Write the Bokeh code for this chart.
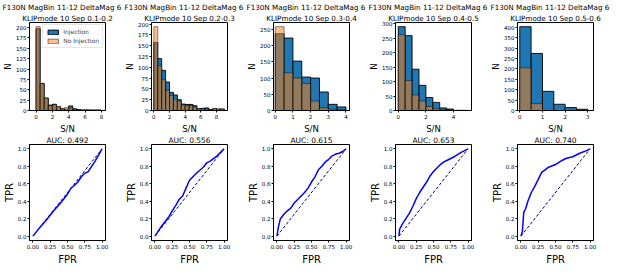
import numpy as np
from bokeh.plotting import figure
from bokeh.layouts import gridplot
from bokeh.models import FixedTicker, PrintfTickFormatter, Legend, LegendItem, Range1d, Title
from bokeh.embed import file_html
from bokeh.resources import INLINE

FONT = "DejaVu Sans"

# ---------------- data ----------------
title_line1 = "F130N MagBin 11-12 DeltaMag 6"
sep_labels = ["0.1-0.2", "0.2-0.3", "0.3-0.4", "0.4-0.5", "0.5-0.6"]
auc_values = ["0.492", "0.556", "0.615", "0.653", "0.740"]

bin_width = 0.5

# S/N histograms (counts per 0.5-wide bin starting at 0)
inj_1 = [197, 65, 30, 13, 15, 9, 4, 3, 11, 4, 2, 1, 1, 1, 1, 1, 0]
noinj_1 = [202, 65, 30, 12, 14, 10, 4, 7, 6, 3, 2, 1, 2, 1, 1, 1, 0]
inj_2 = [157, 120, 93, 66, 42, 36, 25, 15, 14, 14, 11, 4, 5, 6, 2, 4, 3, 3]
noinj_2 = [194, 104, 71, 47, 35, 26, 22, 13, 12, 11, 8, 4, 4, 3, 2, 5, 4, 4]
inj_3 = [236, 223, 152, 103, 100, 57, 19, 11]
noinj_3 = [258, 116, 100, 83, 29, 8, 4, 3]
inj_4 = [290, 259, 143, 87, 45, 28, 9, 5, 0, 0]
noinj_4 = [262, 104, 54, 33, 14, 7, 3, 2, 1, 1]
inj_5 = [403, 274, 92, 30, 14, 6]
noinj_5 = [205, 33, 0, 0, 0, 0]

hist_xticks_1 = [0, 2, 4, 6, 8]
hist_xticks_2 = [0, 2, 4, 6, 8]
hist_xticks_3 = [0, 1, 2, 3, 4]
hist_xticks_4 = [0, 2, 4]
hist_xticks_5 = [0, 1, 2, 3]
hist_yticks_1 = [0, 25, 50, 75, 100, 125, 150, 175, 200]
hist_yticks_2 = [0, 25, 50, 75, 100, 125, 150, 175, 200]
hist_yticks_3 = [0, 50, 100, 150, 200, 250]
hist_yticks_4 = [0, 50, 100, 150, 200, 250, 300]
hist_yticks_5 = [0, 50, 100, 150, 200, 250, 300, 350, 400]
hist_xlims_1 = (-0.8, 8.5)
hist_xlims_2 = (-0.3, 9.4)
hist_xlims_3 = (-0.1, 4.2)
hist_xlims_4 = (-0.2, 5.3)
hist_xlims_5 = (-0.1, 3.25)

# ROC curves
roc_fpr_1 = [0, 0.1, 0.2, 0.3, 0.4, 0.5, 0.55, 0.6, 0.65, 0.7, 0.75, 0.8, 0.9, 1.0]
roc_tpr_1 = [0, 0.1, 0.19, 0.29, 0.38, 0.48, 0.55, 0.58, 0.62, 0.68, 0.72, 0.74, 0.86, 1.0]
roc_fpr_2 = [0, 0.1, 0.2, 0.25, 0.3, 0.35, 0.4, 0.45, 0.5, 0.55, 0.6, 0.7, 0.75, 0.8, 0.9, 1.0]
roc_tpr_2 = [0, 0.12, 0.22, 0.29, 0.35, 0.42, 0.46, 0.55, 0.64, 0.68, 0.72, 0.79, 0.84, 0.86, 0.92, 1.0]
roc_fpr_3 = [0, 0.02, 0.05, 0.1, 0.15, 0.2, 0.25, 0.3, 0.35, 0.4, 0.45, 0.5, 0.55, 0.6, 0.65,
             0.7, 0.75, 0.8, 0.85, 0.9, 0.95, 1.0]
roc_tpr_3 = [0, 0.1, 0.2, 0.25, 0.29, 0.32, 0.38, 0.42, 0.46, 0.5, 0.55, 0.62, 0.68, 0.76, 0.8,
             0.85, 0.88, 0.92, 0.94, 0.95, 0.97, 1.0]
roc_fpr_4 = [0, 0.01, 0.03, 0.05, 0.1, 0.15, 0.2, 0.25, 0.3, 0.35, 0.4, 0.45, 0.5, 0.55, 0.6,
             0.65, 0.7, 0.8, 0.9, 1.0]
roc_tpr_4 = [0, 0.08, 0.11, 0.14, 0.2, 0.26, 0.34, 0.43, 0.5, 0.56, 0.62, 0.69, 0.74, 0.78, 0.82,
             0.85, 0.87, 0.91, 0.96, 1.0]
roc_fpr_5 = [0, 0.02, 0.04, 0.07, 0.1, 0.15, 0.2, 0.25, 0.3, 0.35, 0.4, 0.5, 0.6, 0.65, 0.75,
             0.85, 0.95, 1.0]
roc_tpr_5 = [0, 0.05, 0.27, 0.32, 0.4, 0.5, 0.57, 0.65, 0.73, 0.76, 0.79, 0.82, 0.87, 0.89, 0.91,
             0.95, 0.98, 1.0]
roc_xticks = [0, 0.25, 0.5, 0.75, 1.0]
roc_yticks = [0, 0.2, 0.4, 0.6, 0.8, 1.0]
diag = [0, 1]

INJ_COLOR = "#1f77b4"
NOINJ_COLOR = "#ff7f0e"

COL_W = 122
LEFT_B = 29


def style(p, xlabel, ylabel, label_size):
    for ax in (p.xaxis[0], p.yaxis[0]):
        ax.major_label_text_font = FONT
        ax.major_label_text_font_size = "5.5px"
        ax.major_label_text_color = "black"
        ax.axis_label_text_font = FONT
        ax.axis_label_text_font_size = label_size
        ax.axis_label_text_font_style = "normal"
        ax.axis_label_text_color = "black"
        ax.major_tick_in = 0
        ax.major_tick_out = 2
        ax.minor_tick_in = 0
        ax.minor_tick_out = 0
        ax.axis_line_color = "black"
        ax.major_tick_line_color = "black"
        ax.major_label_standoff = 1
        ax.axis_label_standoff = 0
    # x label as a compact title below the axis
    p.add_layout(Title(text=xlabel, align="center", text_font=FONT, text_font_size=label_size,
                       text_font_style="normal", text_color="black", standoff=0, offset=0),
                 "below")
    p.yaxis.axis_label = ylabel
    p.xgrid.visible = False
    p.ygrid.visible = False
    p.outline_line_color = "black"
    p.outline_line_alpha = 1
    p.background_fill_color = "white"
    p.border_fill_color = "white"


def add_title(p, text, size, standoff, align="center", offset=0):
    t = Title(text=text, align=align, text_font=FONT, text_font_size=size,
              text_font_style="normal", text_color="black", standoff=standoff, offset=offset)
    p.add_layout(t, "above")


hist_sets = [
    (inj_1, noinj_1, hist_xticks_1, hist_yticks_1, hist_xlims_1),
    (inj_2, noinj_2, hist_xticks_2, hist_yticks_2, hist_xlims_2),
    (inj_3, noinj_3, hist_xticks_3, hist_yticks_3, hist_xlims_3),
    (inj_4, noinj_4, hist_xticks_4, hist_yticks_4, hist_xlims_4),
    (inj_5, noinj_5, hist_xticks_5, hist_yticks_5, hist_xlims_5),
]
roc_sets = [
    (roc_fpr_1, roc_tpr_1), (roc_fpr_2, roc_tpr_2), (roc_fpr_3, roc_tpr_3),
    (roc_fpr_4, roc_tpr_4), (roc_fpr_5, roc_tpr_5),
]

top_row = []
for i, (inj, noinj, xt, yt, xl) in enumerate(hist_sets):
    inj = np.array(inj, dtype=float)
    noinj = np.array(noinj, dtype=float)
    n = max(len(inj), len(noinj))
    edges = np.arange(n + 1) * bin_width
    ymax = max(inj.max(), noinj.max()) * 1.05
    p = figure(width=COL_W, height=133, output_backend="svg", toolbar_location=None,
               x_range=Range1d(*xl), y_range=Range1d(0, ymax),
               min_border_left=LEFT_B, min_border_right=17, min_border_top=0, min_border_bottom=0,
               title=None)
    style(p, "S/N", "N", "8.5px")
    add_title(p, "KLIPmode 10 Sep " + sep_labels[i], "7.2px", 0)
    add_title(p, title_line1, "7.2px", 0, align="left", offset=-(LEFT_B - 2))
    m1 = inj > 0
    r1 = p.quad(left=edges[:-1][m1], right=edges[1:][m1], bottom=0, top=inj[m1],
                fill_color=INJ_COLOR, fill_alpha=1.0, line_color="black", line_width=0.9)
    m2 = noinj > 0
    r2 = p.quad(left=edges[:-1][m2], right=edges[1:][m2], bottom=0, top=noinj[m2],
                fill_color=NOINJ_COLOR, fill_alpha=0.5, line_color="black", line_alpha=0.5,
                line_width=0.9)
    p.xaxis.ticker = FixedTicker(ticks=xt)
    p.yaxis.ticker = FixedTicker(ticks=yt)
    if i == 0:
        leg = Legend(items=[LegendItem(label="Injection", renderers=[r1]),
                            LegendItem(label="No Injection", renderers=[r2])],
                     location="top_right")
        leg.label_text_font = FONT
        leg.label_text_font_size = "6px"
        leg.glyph_width = 13
        leg.glyph_height = 6
        leg.label_height = 6
        leg.label_standoff = 4
        leg.spacing = 2
        leg.padding = 3
        leg.margin = 2
        leg.border_line_color = "#cccccc"
        leg.background_fill_alpha = 0.9
        p.add_layout(leg)
    top_row.append(p)

bottom_row = []
for i, (fpr, tpr) in enumerate(roc_sets):
    p = figure(width=COL_W, height=131, output_backend="svg", toolbar_location=None,
               x_range=Range1d(-0.05, 1.05), y_range=Range1d(-0.05, 1.05),
               min_border_left=LEFT_B, min_border_right=17, min_border_top=0, min_border_bottom=0,
               title=None)
    style(p, "FPR", "TPR", "10px")
    add_title(p, "AUC: " + auc_values[i], "7.5px", 0)
    p.line(diag, diag, line_color="navy", line_dash="3 2", line_width=1)
    p.line(fpr, tpr, line_color="blue", line_width=1.5)
    p.xaxis.ticker = FixedTicker(ticks=roc_xticks)
    p.yaxis.ticker = FixedTicker(ticks=roc_yticks)
    p.xaxis.formatter = PrintfTickFormatter(format="%.2f")
    p.yaxis.formatter = PrintfTickFormatter(format="%.1f")
    bottom_row.append(p)

grid = gridplot([top_row, bottom_row], toolbar_location=None)

open("out.html", "w").write(file_html(grid, INLINE))
